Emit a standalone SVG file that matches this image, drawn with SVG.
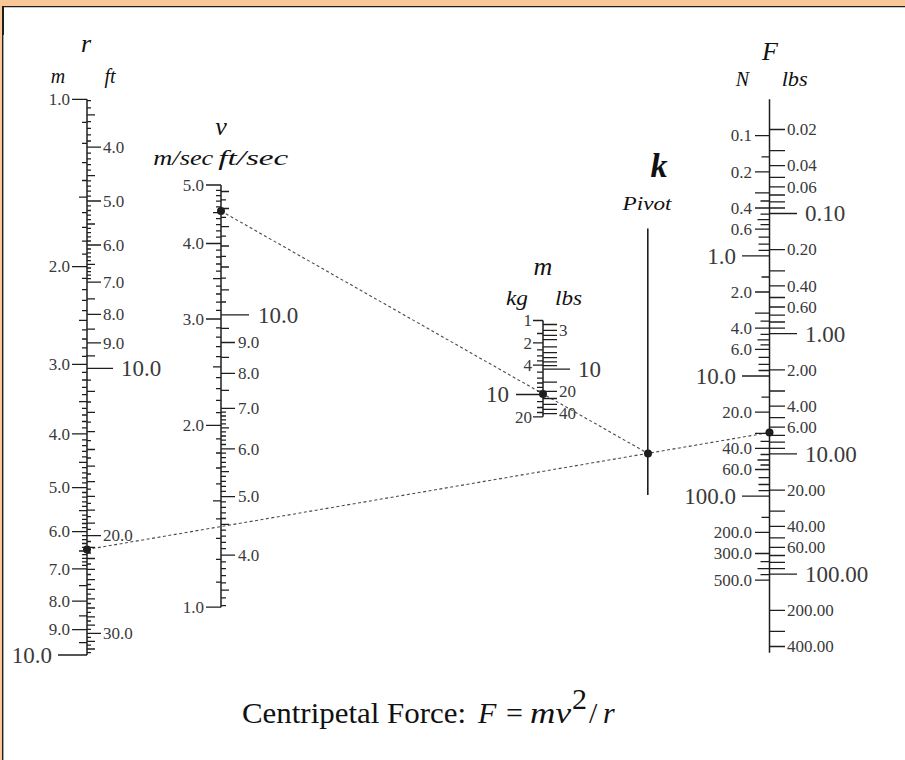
<svg xmlns="http://www.w3.org/2000/svg" width="905" height="760" viewBox="0 0 905 760">
<style>
.ax{stroke:#1e1e1e;stroke-width:1.5;fill:none}
.tk{stroke:#1e1e1e;stroke-width:1.3;fill:none}
.lbl{font-family:"Liberation Serif","DejaVu Serif",serif;font-size:17px;fill:#3a3a3a}
.big{font-size:23px}
.end{text-anchor:end}
.hd{font-family:"Liberation Serif","DejaVu Serif",serif;font-style:italic;fill:#111;text-anchor:middle}
.h1{font-size:26px}
.h2{font-size:20px}
.dash{stroke:#4a4a4a;stroke-width:1.1;stroke-dasharray:3 2.5;fill:none}
.dot{fill:#1e1e1e}
.title{font-family:"Liberation Serif","DejaVu Serif",serif;font-size:30px;fill:#111}
</style>
<rect x="0" y="0" width="905" height="760" fill="#ffffff"/>
<g id="frame">
<rect x="0" y="0" width="905" height="6" fill="#f9c896"/>
<rect x="0" y="0" width="2" height="760" fill="#f9c896"/>
<line x1="2" y1="6.6" x2="905" y2="6.6" stroke="#1e1e1e" stroke-width="1.4"/>
<line x1="2.7" y1="6" x2="2.7" y2="760" stroke="#1e1e1e" stroke-width="1.4"/>
<rect x="2" y="7" width="2" height="28" fill="#1e1e1e"/>
</g>

<g id="connectors">
<line class="dash" x1="221" y1="211" x2="648" y2="453.5"/>
<line class="dash" x1="87" y1="549.5" x2="769.5" y2="432.5"/>
</g>

<g id="scale-r">
<text class="hd h1" x="86" y="52">r</text>
<text class="hd h2" x="58" y="83">m</text>
<text class="hd h2" x="110" y="83">ft</text>
<path class="ax" d="M87 99.3V655"/>
<path class="tk" d="M72 99.3H87M72 266.6H87M72 364.4H87M72 433.9H87M72 487.7H87M72 531.7H87M72 568.9H87M72 601.2H87M72 629.6H87M58 655H87
M82 122.3H87M82 143.3H87M82 162.6H87M82 180.5H87M82 212.7H87M82 227.4H87M82 241.2H87M82 254.2H87
M82 278.4H87M82 289.6H87M82 300.3H87M82 310.6H87M82 329.9H87M82 339H87M82 347.8H87M82 356.3H87
M82 372.4H87M82 380H87M82 387.4H87M82 394.6H87M82 408.4H87M82 415H87M82 421.5H87M82 427.8H87
M82 439.8H87M82 445.6H87M82 451.3H87M82 456.9H87M82 467.6H87M82 472.8H87M82 477.9H87M82 482.8H87
M82 492.5H87M82 497.2H87M82 501.8H87M82 506.3H87M82 515.1H87M82 519.3H87M82 523.5H87M82 527.7H87
M82 535.7H87M82 539.6H87M82 543.5H87M82 547.3H87M82 554.7H87M82 558.4H87M82 561.9H87M82 565.4H87
M79 197.2H87M79 320.4H87M79 401.6H87M79 462.3H87M79 510.7H87M79 551H87M79 585.6H87M79 615.8H87M79 642.6H87
M87 147.1H101M87 201H101M87 245H101M87 282.2H101M87 314.4H101M87 342.8H101M87 535.6H101M87 633.4H101M87 368.3H113
M87 100.7H91M87 107.9H91M87 121.7H91M87 128.3H91M87 134.8H91M87 141H91
M87 153.1H91M87 158.9H91M87 164.6H91M87 170.1H91M87 180.9H91M87 186.1H91M87 191.1H91M87 196.1H91
M87 205.8H91M87 210.5H91M87 215.1H91M87 219.6H91M87 228.4H91M87 232.6H91M87 236.8H91M87 241H91
M87 249H91M87 252.9H91M87 256.8H91M87 260.6H91M87 268H91M87 271.7H91M87 275.2H91M87 278.7H91
M87 380.1H91M87 402H91M87 422.1H91M87 440.7H91M87 458H91M87 474H91M87 489.1H91M87 503.3H91M87 516.7H91M87 529.4H91
M87 541.5H91M87 553H91M87 564H91M87 574.5H91M87 584.5H91M87 594.2H91M87 603.5H91M87 612.4H91M87 621H91M87 629.4H91M87 637.4H91M87 645.2H91M87 652.7H91
M87 114.9H95M87 175.6H95M87 224H95M87 264.3H95M87 298.9H95M87 329.1H95M87 355.9H95
M87 391.3H95M87 412.3H95M87 431.6H95M87 449.5H95M87 466.1H95M87 481.7H95M87 496.3H95M87 510.1H95M87 523.2H95
M87 547.3H95M87 558.5H95M87 569.3H95M87 579.6H95M87 589.4H95M87 598.9H95M87 608H95M87 616.8H95M87 625.2H95M87 641.3H95M87 649H95"/>
<g class="lbl end">
<text x="70" y="105">1.0</text><text x="70" y="272.3">2.0</text><text x="70" y="370.1">3.0</text><text x="70" y="439.6">4.0</text><text x="70" y="493.4">5.0</text><text x="70" y="537.4">6.0</text><text x="70" y="574.6">7.0</text><text x="70" y="606.9">8.0</text><text x="70" y="635.3">9.0</text>
<text class="big" x="52" y="662.8">10.0</text>
</g>
<g class="lbl">
<text x="103" y="152.8">4.0</text><text x="103" y="206.7">5.0</text><text x="103" y="250.7">6.0</text><text x="103" y="287.9">7.0</text><text x="103" y="320.1">8.0</text><text x="103" y="348.5">9.0</text><text x="103" y="541.3">20.0</text><text x="103" y="639.1">30.0</text>
<text class="big" x="121" y="376.1">10.0</text>
</g>
</g>

<g id="scale-v">
<text class="hd h1" x="221" y="135">v</text>
<text class="hd h2" x="183.3" y="165" textLength="60" lengthAdjust="spacingAndGlyphs">m/sec</text>
<text class="hd h2" x="253.3" y="165" textLength="70" lengthAdjust="spacingAndGlyphs">ft/sec</text>
<path class="ax" d="M221 185V607.2"/>
<path class="tk" d="M206 185H221M206 243.5H221M206 319H221M206 425.4H221M206 607.2H221
M216 582.2H221M216 559.4H221M216 538.4H221M216 518.9H221M216 483.9H221M216 468H221M216 453H221M216 438.8H221
M216 412.6H221M216 400.4H221M216 388.7H221M216 377.6H221M216 356.6H221M216 346.7H221M216 337.1H221M216 327.9H221
M216 310.4H221M216 302.1H221M216 294H221M216 286.2H221M216 271.2H221M216 264H221M216 257H221M216 250.2H221
M216 237.1H221M216 230.8H221M216 224.6H221M216 218.6H221M216 206.9H221M216 201.2H221M216 195.7H221M216 190.3H221
M213 500.8H221M213 366.8H221M213 278.6H221M213 212.7H221
M221 555.2H235M221 496.7H235M221 448.8H235M221 408.4H235M221 373.4H235M221 342.5H235M221 314.8H249
M221 605.6H226M221 597.8H226M221 582.8H226M221 575.6H226M221 568.6H226M221 561.8H226
M221 548.7H226M221 542.4H226M221 536.2H226M221 530.2H226M221 518.5H226M221 512.8H226M221 507.3H226M221 501.9H226
M221 491.4H226M221 486.3H226M221 481.3H226M221 476.4H226M221 466.9H226M221 462.3H226M221 457.7H226M221 453.2H226
M221 444.5H226M221 440.2H226M221 436H226M221 431.9H226M221 423.8H226M221 419.9H226M221 416H226M221 412.1H226
M221 302H226M221 278.2H226M221 256.3H226M221 236.1H226M221 217.4H226M221 199.9H226
M221 590.2H229M221 524.3H229M221 471.6H229M221 427.8H229M221 390.3H229M221 357.4H229M221 328.3H229
M221 289.8H229M221 267H229M221 246H229M221 226.6H229M221 208.5H229M221 191.5H229"/>
<g class="lbl end">
<text x="204" y="190.7">5.0</text><text x="204" y="249.2">4.0</text><text x="204" y="324.7">3.0</text><text x="204" y="431.1">2.0</text><text x="204" y="612.9">1.0</text>
</g>
<g class="lbl">
<text x="238" y="560.9">4.0</text><text x="238" y="502.4">5.0</text><text x="238" y="454.5">6.0</text><text x="238" y="414.1">7.0</text><text x="238" y="379.1">8.0</text><text x="238" y="348.2">9.0</text>
<text class="big" x="258" y="322.6">10.0</text>
</g>
</g>

<g id="scale-m">
<text class="hd h1" x="543" y="275">m</text>
<text class="hd h2" x="517" y="305" textLength="22" lengthAdjust="spacingAndGlyphs">kg</text>
<text class="hd h2" x="568.5" y="305" textLength="27" lengthAdjust="spacingAndGlyphs">lbs</text>
<path class="ax" d="M543 320.5V416.8"/>
<path class="tk" d="M533 320.5H543M533 342.8H543M533 365.1H543M533 416.8H543M516 394.5H543
M537 333.5H543M537 349.9H543M537 355.8H543M537 360.8H543M537 372.2H543M537 378.1H543M537 383H543M537 387.3H543M537 391.1H543M537 401.7H543M537 407.5H543M537 412.5H543
M543 330.4H557M543 391.4H557M543 413.6H557M543 369.1H570
M543 324.5H557M543 335.4H557M543 339.7H557M543 346.8H557M543 352.7H557M543 357.6H557M543 361.9H557M543 365.7H557M543 382.1H557M543 398.5H557M543 404.4H557M543 409.4H557"/>
<g class="lbl end">
<text x="532" y="326.2">1</text><text x="532" y="348.5">2</text><text x="532" y="370.8">4</text><text x="532" y="422.5">20</text>
<text class="big" x="509" y="402.3">10</text>
</g>
<g class="lbl">
<text x="559" y="336.1">3</text><text x="559" y="397.1">20</text><text x="559" y="419.3">40</text>
<text class="big" x="578" y="376.9">10</text>
</g>
</g>

<g id="pivot">
<text x="659" y="177" font-family="Liberation Serif, DejaVu Serif, serif" font-size="34" font-weight="bold" font-style="italic" fill="#111" text-anchor="middle">k</text>
<text class="hd" x="647" y="210" font-size="19" textLength="49" lengthAdjust="spacingAndGlyphs">Pivot</text>
<line x1="647.8" y1="228.5" x2="647.8" y2="495" stroke="#1e1e1e" stroke-width="1.6"/>
</g>

<g id="scale-F">
<text class="hd h1" x="770" y="60">F</text>
<text class="hd h2" x="742.5" y="86">N</text>
<text class="hd h2" x="794.7" y="86" textLength="26" lengthAdjust="spacingAndGlyphs">lbs</text>
<path class="ax" d="M769.5 99.3V652.7"/>
<path class="tk" d="M755 135.6H769.5M755 171.8H769.5M755 208H769.5M755 229.1H769.5M755 292H769.5M755 328.2H769.5M755 349.3H769.5M755 412.2H769.5M755 448.4H769.5M755 469.5H769.5M755 532.4H769.5M755 553.5H769.5M755 580.2H769.5
M742 255.8H769.5M742 376H769.5M742 496.2H769.5
M761.5 156.8H769.5M761.5 277H769.5M761.5 397.2H769.5M761.5 517.4H769.5
M755 192.9H769.5M755 313.1H769.5M755 433.3H769.5
M760.5 214.1H769.5M760.5 334.3H769.5M760.5 454.5H769.5M760.5 574.7H769.5
M757.5 219.6H769.5M757.5 339.8H769.5M757.5 460H769.5
M760.5 224.6H769.5M760.5 344.8H769.5M760.5 465H769.5
M760.5 201H769.5M760.5 321.2H769.5M760.5 441.4H769.5M760.5 561.6H769.5M757.5 568.6H769.5
M758.5 237.2H769.5M758.5 357.4H769.5M758.5 477.6H769.5
M758.5 244.1H769.5M758.5 364.3H769.5M758.5 484.5H769.5
M758.5 250.3H769.5M758.5 370.5H769.5M758.5 490.7H769.5
M769.5 129.5H785M769.5 165.7H785M769.5 186.9H785M769.5 249.7H785M769.5 285.9H785M769.5 307H785M769.5 369.9H785M769.5 406.1H785M769.5 427.2H785M769.5 490.1H785M769.5 526.3H785M769.5 547.4H785M769.5 610.3H785M769.5 646.5H785
M769.5 213.5H797M769.5 333.7H797M769.5 453.9H797M769.5 574.1H797
M769.5 150.6H785M769.5 270.8H785M769.5 391H785M769.5 511.2H785M769.5 631.4H785
M769.5 177.3H785M769.5 297.5H785M769.5 417.7H785M769.5 537.9H785
M769.5 195H785M769.5 315.1H785M769.5 435.3H785M769.5 555.5H785
M769.5 201.9H785M769.5 322H785M769.5 442.2H785M769.5 562.4H785
M769.5 208H785M769.5 328.2H785M769.5 448.4H785M769.5 568.6H785"/>
<g class="lbl end">
<text x="752" y="141.3">0.1</text><text x="752" y="177.5">0.2</text><text x="752" y="213.7">0.4</text><text x="752" y="234.8">0.6</text><text x="752" y="297.7">2.0</text><text x="752" y="333.9">4.0</text><text x="752" y="355">6.0</text><text x="752" y="417.9">20.0</text><text x="752" y="454.1">40.0</text><text x="752" y="475.2">60.0</text><text x="752" y="538.1">200.0</text><text x="752" y="559.2">300.0</text><text x="752" y="585.9">500.0</text>
<text class="big" x="736" y="263.6">1.0</text><text class="big" x="736" y="383.8">10.0</text><text class="big" x="736" y="504">100.0</text>
</g>
<g class="lbl">
<text x="787" y="135.2">0.02</text><text x="787" y="171.4">0.04</text><text x="787" y="192.6">0.06</text><text x="787" y="255.4">0.20</text><text x="787" y="291.6">0.40</text><text x="787" y="312.7">0.60</text><text x="787" y="375.6">2.00</text><text x="787" y="411.8">4.00</text><text x="787" y="432.9">6.00</text><text x="787" y="495.8">20.00</text><text x="787" y="532">40.00</text><text x="787" y="553.1">60.00</text><text x="787" y="616">200.00</text><text x="787" y="652.2">400.00</text>
<text class="big" x="805" y="221.3">0.10</text><text class="big" x="805" y="341.5">1.00</text><text class="big" x="805" y="461.7">10.00</text><text class="big" x="805" y="581.9">100.00</text>
</g>
</g>

<g id="points">
<circle class="dot" cx="221" cy="211" r="4"/>
<circle class="dot" cx="543" cy="394" r="4"/>
<circle class="dot" cx="648" cy="453.5" r="4"/>
<circle class="dot" cx="87" cy="549.5" r="4"/>
<circle class="dot" cx="769.5" cy="432.5" r="4"/>
</g>

<g id="title">
<text class="title" x="242" y="723" textLength="224" lengthAdjust="spacingAndGlyphs">Centripetal Force:</text>
<text class="title" x="478" y="723" font-style="italic">F</text>
<text class="title" x="506" y="723">=</text>
<text class="title" x="530" y="723" font-style="italic" textLength="41" lengthAdjust="spacingAndGlyphs">mv</text>
<text class="title" x="572" y="709" font-size="15">2</text>
<text class="title" x="589" y="723">/</text>
<text class="title" x="603" y="723" font-style="italic">r</text>
</g>
</svg>
